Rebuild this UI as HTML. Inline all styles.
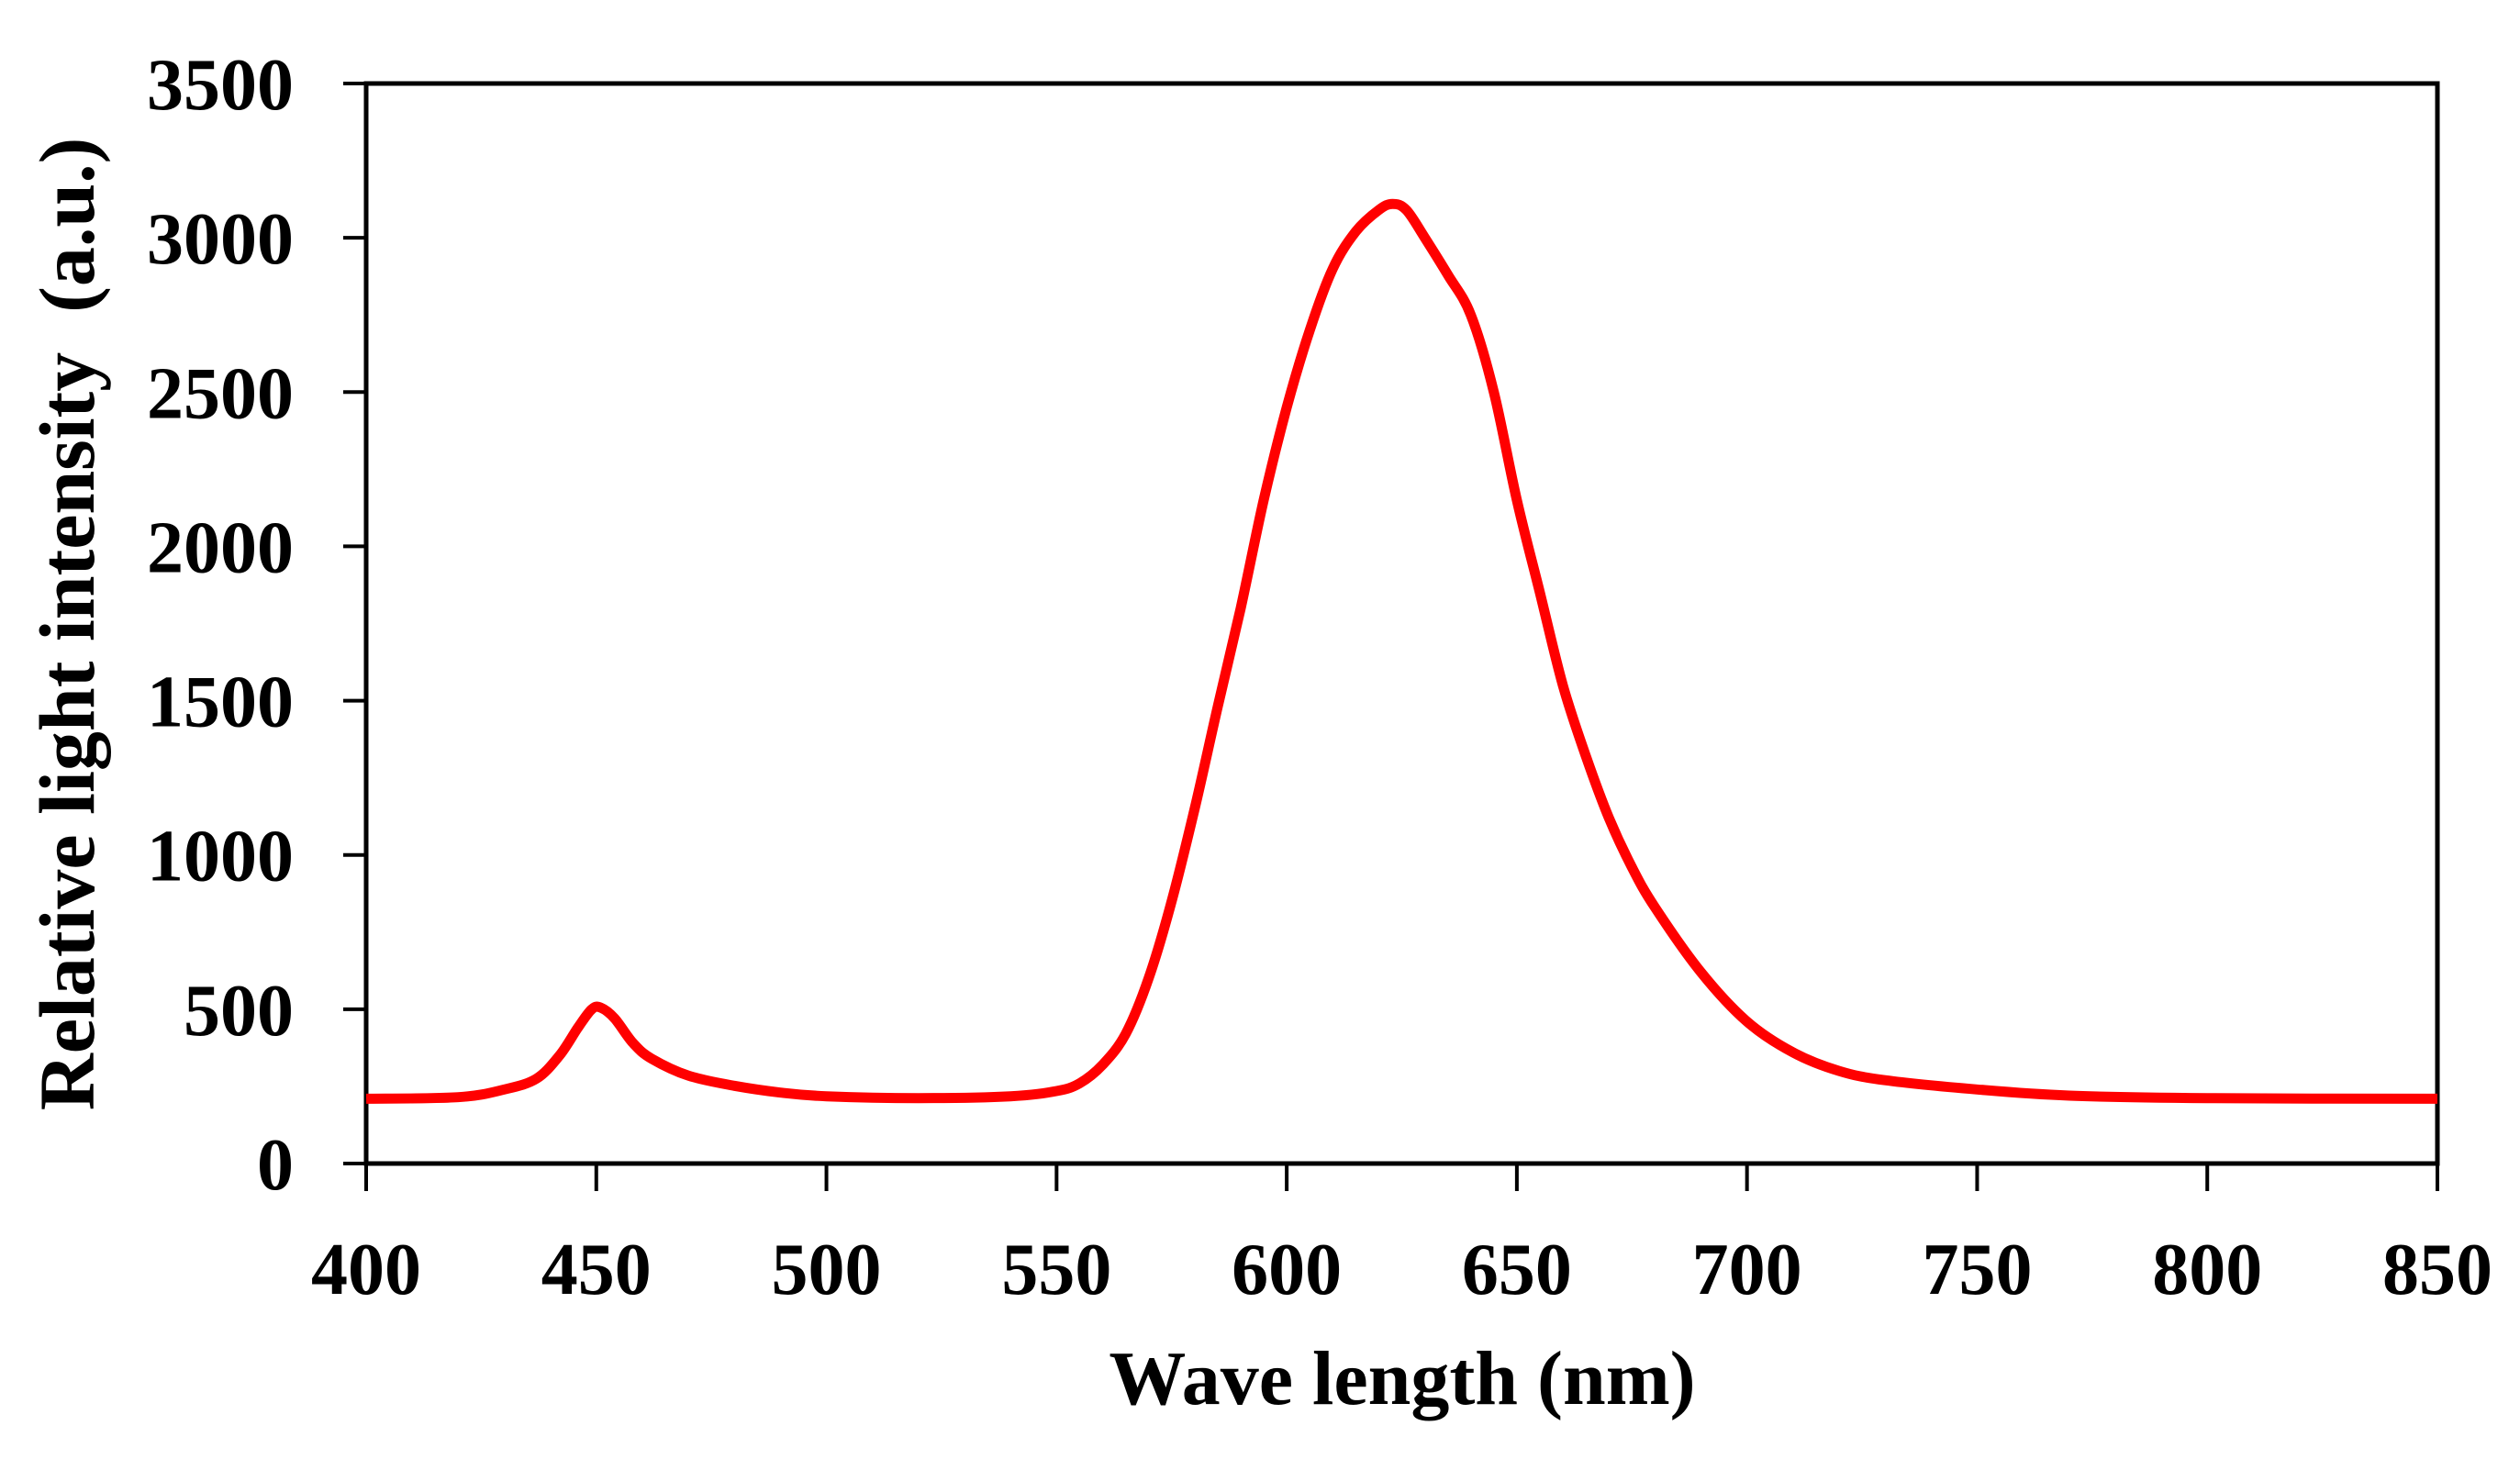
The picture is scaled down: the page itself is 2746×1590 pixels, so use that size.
<!DOCTYPE html>
<html><head><meta charset="utf-8"><style>
html,body{margin:0;padding:0;background:#fff;}
svg{display:block;font-family:"Liberation Serif",serif;font-weight:bold;}
</style></head><body>
<svg id="chart" width="2746" height="1590" viewBox="0 0 2746 1590">
<g id="axes"></g>
<g id="series"></g>
<text x="1528" y="1530" font-size="84" text-anchor="middle">Wave length (nm)</text>
<text transform="translate(102,680) rotate(-90)" font-size="86" text-anchor="middle" xml:space="preserve">Relative light intensity  (a.u.)</text>
</svg>
<script>
const wavelengths=[400,420,430,437,442,446,449,451,454,458,462,470,480,490,500,520,540,550,555,560,565,570,575,580,585,590,595,600,605,610,615,620,623,626,630,635,640,645,650,655,660,665,670,675,680,690,700,710,720,730,750,770,800,850];
const intensity=[210,215,240,275,350,440,500,505,470,390,340,285,252,230,218,212,218,235,260,320,420,600,850,1150,1480,1800,2150,2450,2700,2900,3020,3090,3110,3090,3000,2880,2750,2500,2150,1850,1550,1320,1120,960,830,620,460,360,300,270,240,220,212,210];
const xTicks=[400,450,500,550,600,650,700,750,800,850];
const yTicks=[0,500,1000,1500,2000,2500,3000,3500];
const L=399,R=2656,T=91,B=1268;
function xs(v){return L+(v-400)/450*(R-L);}
function ys(v){return B-v/3500*(B-T);}
const NS="http://www.w3.org/2000/svg";
const ax=document.getElementById('axes');
function mk(tag,attrs,parent){const e=document.createElementNS(NS,tag);for(const k in attrs)e.setAttribute(k,attrs[k]);parent.appendChild(e);return e;}
const frame=mk('rect',{x:L,y:T,width:R-L,height:B-T,fill:'none',stroke:'#000','stroke-width':5},ax);


xTicks.forEach(v=>{
  const t=mk('line',{x1:xs(v),x2:xs(v),y1:B,y2:B+30,stroke:'#000','stroke-width':4},ax);
  
  
  const l=mk('text',{x:xs(v),y:1410,'font-size':80,'text-anchor':'middle'},ax);
  l.textContent=v;
  
  
});
yTicks.forEach(v=>{
  const t=mk('line',{x1:L-25,x2:L,y1:ys(v),y2:ys(v),stroke:'#000','stroke-width':4},ax);
  
  
  const l=mk('text',{x:320,y:ys(v)+28,'font-size':80,'text-anchor':'end'},ax);
  l.textContent=v;
  
  
});
const pts=wavelengths.map((w,i)=>[xs(w),ys(intensity[i])]);
let d='M'+pts[0][0].toFixed(1)+','+pts[0][1].toFixed(1);
for(let i=0;i<pts.length-1;i++){
  const p0=pts[Math.max(0,i-1)],p1=pts[i],p2=pts[i+1],p3=pts[Math.min(pts.length-1,i+2)];
  const c1=[p1[0]+(p2[0]-p0[0])/6,p1[1]+(p2[1]-p0[1])/6];
  const c2=[p2[0]-(p3[0]-p1[0])/6,p2[1]-(p3[1]-p1[1])/6];
  d+=' C'+c1[0].toFixed(1)+','+c1[1].toFixed(1)+' '+c2[0].toFixed(1)+','+c2[1].toFixed(1)+' '+p2[0].toFixed(1)+','+p2[1].toFixed(1);
}
const p=mk('path',{d:d,fill:'none',stroke:'#ff0000','stroke-width':11,'stroke-linejoin':'round'},document.getElementById('series'));


</script>
</body></html>
